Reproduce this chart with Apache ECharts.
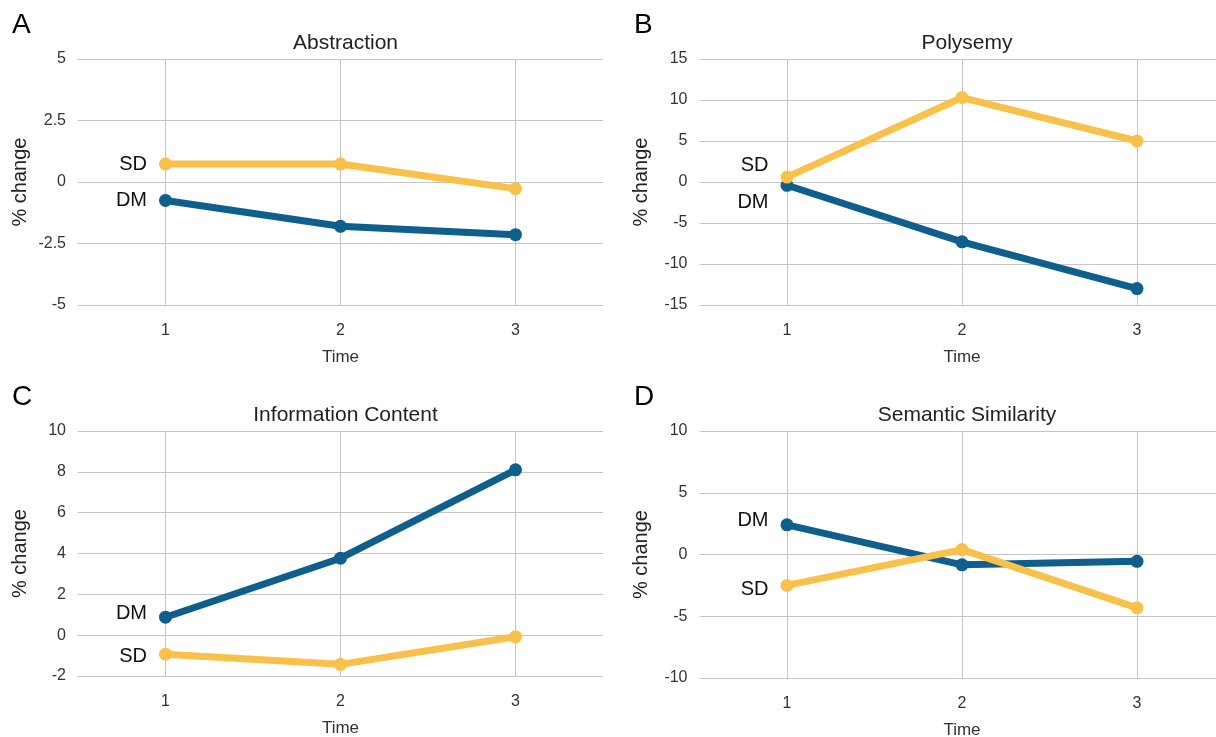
<!DOCTYPE html>
<html>
<head>
<meta charset="utf-8">
<script src="https://cdn.jsdelivr.net/npm/echarts@6/dist/echarts.min.js"></script>
<style>
html,body{margin:0;padding:0;background:#fff;}
#main{width:1216px;height:737px;}
</style>
</head>
<body>
<div id="main"></div>
<script>
// ---- data ----
const times = [1, 2, 3];
const panelLetters = ['A', 'B', 'C', 'D'];
const panelTitles = ['Abstraction', 'Polysemy', 'Information Content', 'Semantic Similarity'];
const dmValues = [
  [-0.75, -1.8, -2.14],
  [-0.4, -7.3, -13.0],
  [0.88, 3.77, 8.1],
  [2.4, -0.84, -0.55]
];
const sdValues = [
  [0.73, 0.73, -0.27],
  [0.6, 10.3, 5.0],
  [-0.93, -1.43, -0.08],
  [-2.5, 0.4, -4.32]
];
const yMin = [-5, -15, -2, -10];
const yMax = [5, 15, 10, 10];
const yInterval = [2.5, 5, 2, 5];

// ---- layout ----
const grids = [
  {left: 78, top: 59, width: 525, height: 246},
  {left: 699.5, top: 59, width: 525, height: 246},
  {left: 78, top: 431, width: 525, height: 245},
  {left: 699.5, top: 431, width: 525, height: 247}
];
const dmLabelOffset = [0, 17, -4, -4];
const sdLabelOffset = [0, -12, 2, 4];

const BLUE = '#0e5e8e';
const YELLOW = '#f9c04a';
const GRID = '#c6c6c6';
const FONT = 'Liberation Sans, Arial, sans-serif';

const option = {
  animation: false,
  backgroundColor: '#fff',
  textStyle: {fontFamily: FONT},
  title: [],
  grid: [],
  xAxis: [],
  yAxis: [],
  series: []
};

grids.forEach((g, i) => {
  option.grid.push(Object.assign({containLabel: false, outerBoundsMode: 'none'}, g));
  option.title.push({
    text: panelTitles[i],
    left: g.left + g.width / 2,
    top: g.top - 31,
    textAlign: 'center',
    textStyle: {fontSize: 21, fontWeight: 'normal', color: '#222', fontFamily: FONT}
  });
  option.title.push({
    text: panelLetters[i],
    left: (i % 2 === 0) ? 7 : 629,
    top: g.top - 53,
    textStyle: {fontSize: 28, fontWeight: 'normal', color: '#000', fontFamily: FONT}
  });
  option.xAxis.push({
    type: 'value', gridIndex: i, min: 0.5, max: 3.5, interval: 0.5,
    name: 'Time', nameLocation: 'middle', nameGap: 44,
    nameTextStyle: {fontSize: 17, color: '#333', fontFamily: FONT},
    axisLine: {show: false}, axisTick: {show: false}, splitLine: {show: false},
    axisLabel: {
      fontSize: 16, color: '#333', margin: 18, fontFamily: FONT,
      formatter: v => (Math.abs(v - Math.round(v)) < 1e-9 && times.indexOf(Math.round(v)) >= 0) ? String(Math.round(v)) : ''
    }
  });
  option.yAxis.push({
    type: 'value', gridIndex: i, min: yMin[i], max: yMax[i], interval: yInterval[i],
    name: '% change', nameLocation: 'middle', nameGap: 48, nameRotate: 90,
    nameTextStyle: {fontSize: 20, color: '#222', fontFamily: FONT},
    axisLine: {show: false}, axisTick: {show: false},
    splitLine: {lineStyle: {color: GRID, width: 1}},
    axisLabel: {fontSize: 16, color: '#333', margin: 12, fontFamily: FONT}
  });
  const mk = (name, vals, color, dy) => ({
    name: name, type: 'line', xAxisIndex: i, yAxisIndex: i,
    data: vals.map((v, k) => {
      const d = {value: [times[k], v]};
      if (k === 0) {
        d.label = {show: true, formatter: name, position: 'left', distance: 12,
          offset: [0, dy], fontSize: 20, color: '#111', fontFamily: FONT};
      }
      return d;
    }),
    symbol: 'circle', symbolSize: 13,
    lineStyle: {color: color, width: 7},
    itemStyle: {color: color},
    label: {show: false},
    z: name === 'SD' ? 4 : 3
  });
  const dm = mk('DM', dmValues[i], BLUE, dmLabelOffset[i]);
  dm.markLine = {
    silent: true, symbol: 'none', animation: false,
    label: {show: false},
    lineStyle: {color: GRID, width: 1, type: 'solid'},
    z: 1,
    data: times.map(t => ({xAxis: t}))
  };
  option.series.push(dm);
  option.series.push(mk('SD', sdValues[i], YELLOW, sdLabelOffset[i]));
});

const chart = echarts.init(document.getElementById('main'), null, {renderer: 'canvas'});
chart.setOption(option);
</script>
</body>
</html>
